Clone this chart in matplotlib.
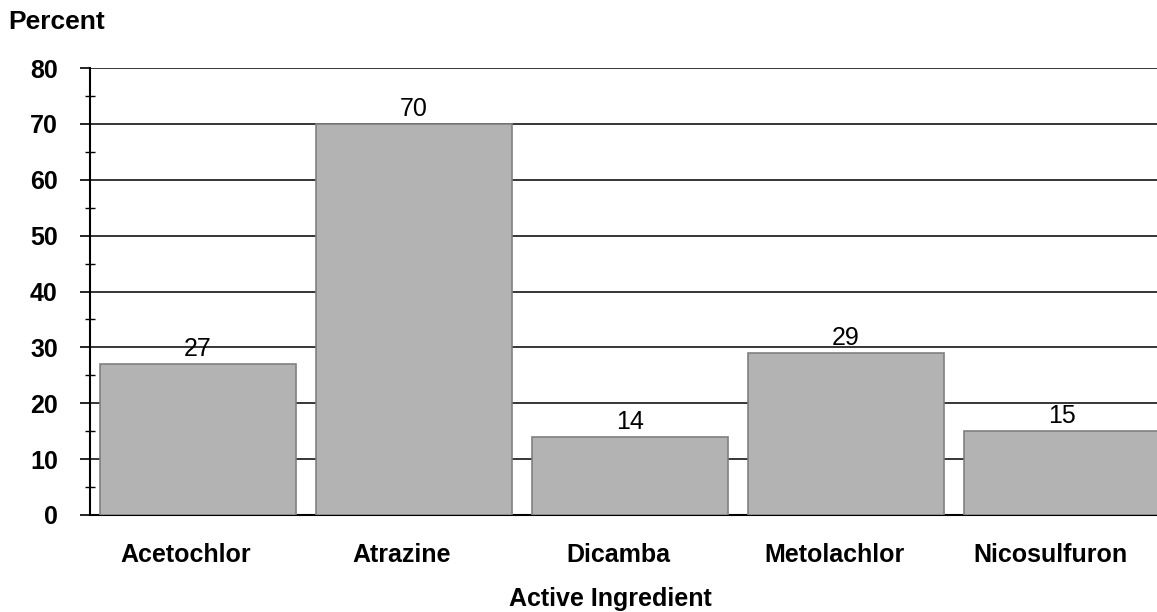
import numpy as np
import matplotlib.pyplot as plt
import matplotlib.transforms as mtransforms

plt.rcParams['font.family'] = ['Liberation Sans', 'DejaVu Sans']

# herbicide active ingredients and share of acres treated
ingredients = ['Acetochlor', 'Atrazine', 'Dicamba', 'Metolachlor', 'Nicosulfuron']
percent = [27, 70, 14, 29, 15]
yticks = [0, 10, 20, 30, 40, 50, 60, 70, 80]

W, H = 1157, 612
fig = plt.figure(figsize=(W / 100, H / 100), dpi=100)
# plot area runs past the right edge of the figure on purpose
ax = fig.add_axes([90 / W, 97 / H, 1080 / W, 447 / H])

x = np.arange(len(ingredients))
ax.set_axisbelow(True)
ax.yaxis.grid(True, color='black', linewidth=1.1)
bars = ax.bar(x, percent, width=0.907, color='#b3b3b3', edgecolor='#808080',
              linewidth=1.2, zorder=3)

for xi, v in zip(x, percent):
    ax.annotate(str(v), (xi, v), xytext=(0, 2), textcoords='offset points',
                ha='center', va='bottom', fontsize=18, zorder=4)

ax.set_xlim(-0.5, len(ingredients) - 0.5)
ax.set_ylim(0, 80)
ax.set_yticks(yticks)
ax.set_yticklabels([str(t) for t in yticks], fontsize=18, fontweight='bold')
ax.set_yticks(np.arange(5, 80, 10), minor=True)
ax.tick_params(axis='y', which='major', length=7.2, width=1.2, pad=16)
ax.tick_params(axis='y', which='minor', direction='inout', length=7, width=1)

ax.set_xticks(x)
ax.set_xticklabels(ingredients, fontsize=18, fontweight='bold')
ax.tick_params(axis='x', length=0, pad=20)
shift = mtransforms.ScaledTranslation(-12 / 100, 0, fig.dpi_scale_trans)
for lbl in ax.get_xticklabels():
    lbl.set_transform(lbl.get_transform() + shift)

for s in ['top', 'right']:
    ax.spines[s].set_visible(False)
ax.spines['left'].set_linewidth(1.5)
ax.spines['bottom'].set_linewidth(1.5)

fig.text(8 / W, 1 - 22 / H, 'Percent', fontsize=19, fontweight='bold',
         ha='left', va='center')
fig.text(610 / W, 1 - 599 / H, 'Active Ingredient', fontsize=18,
         fontweight='bold', ha='center', va='center')

fig.savefig('out.png', dpi=100)
